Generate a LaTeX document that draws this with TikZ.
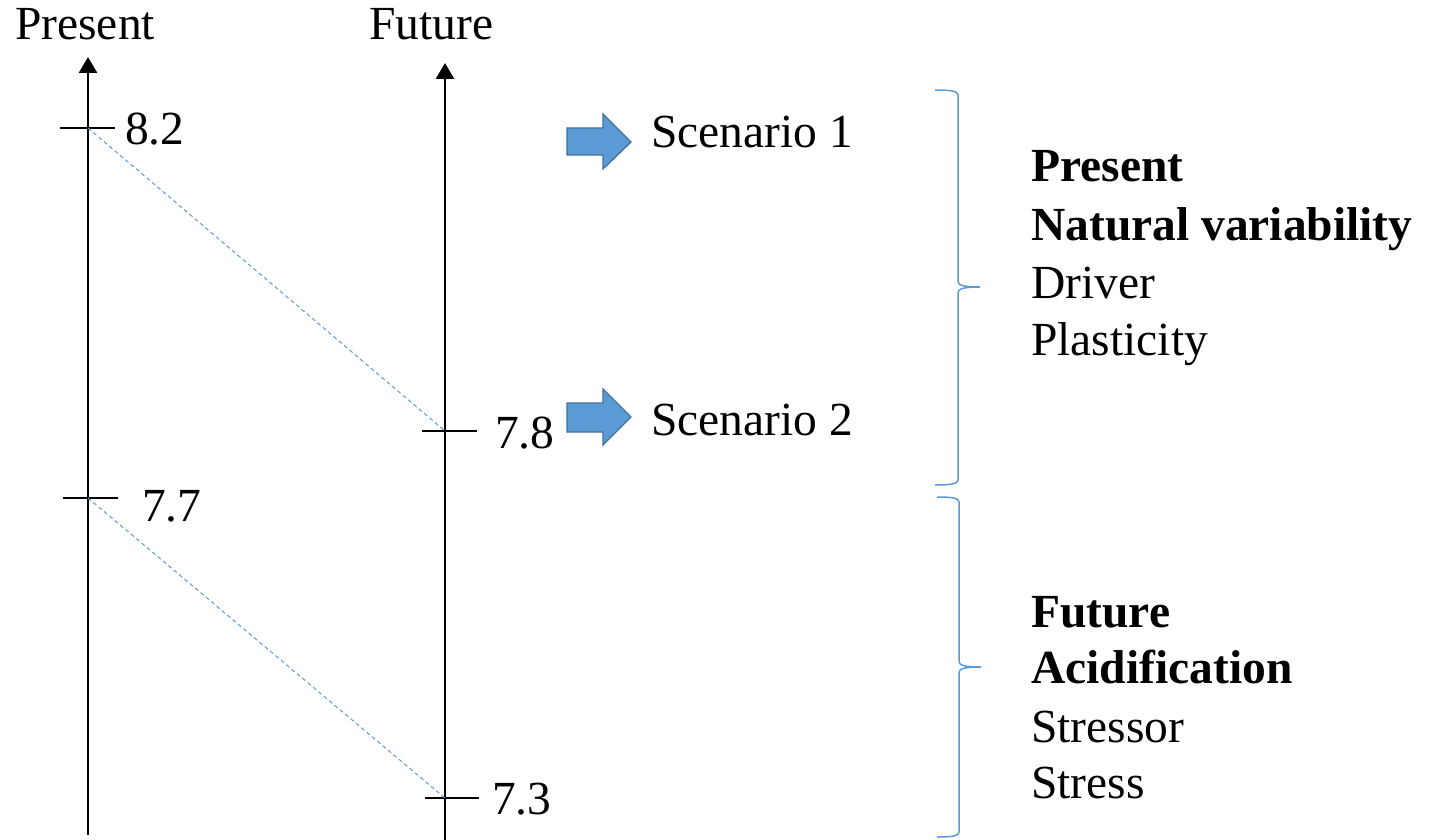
\documentclass[tikz,border=0pt]{standalone}
\usepackage{fontspec}
\setmainfont{Liberation Serif}
\usetikzlibrary{arrows.meta}
\definecolor{accblue}{HTML}{5B9BD5}
\definecolor{accdark}{HTML}{41719C}
\begin{document}
\begin{tikzpicture}[x=1pt,y=-1pt,
  txt/.style={inner sep=0pt,anchor=base west,font=\fontsize{47.5}{57}\selectfont},
  btxt/.style={txt,font=\fontsize{47.5}{57}\selectfont\bfseries},
  axisline/.style={line width=2.8pt,-{Triangle[width=18pt,length=16pt]}},
  tickline/.style={line width=1.4pt},
  guide/.style={accblue,line width=1pt,dash pattern=on 4pt off 3pt},
  bracestyle/.style={accblue,line width=1.5pt},
  blockarrow/.style={fill=accblue,draw=accdark,line width=1.3pt,line join=miter}
]
\useasboundingbox (0,0) rectangle (1440,840);

% axis titles
\node[txt] (tpres) at (15,40) {Present};
\node[txt] (tfut) at (369,40) {Future};

% axes
\coordinate (pb) at (88,835);
\coordinate (pt) at (88,57);
\coordinate (fb) at (445,840);
\coordinate (ft) at (445,63);
\draw[axisline] (pb) -- (pt);
\draw[axisline] (fb) -- (ft);

% ticks
\coordinate (p82) at (88,128);
\coordinate (f78) at (445,431);
\coordinate (p77) at (88,498);
\coordinate (f73) at (445,798);
\draw[tickline] (60,128) -- (115,128);
\draw[tickline] (422,431) -- (477,431);
\draw[tickline] (63,498) -- (118,498);
\draw[tickline] (425,798) -- (479,798);

% tick labels
\node[txt] (l82) at (125,145) {8.2};
\node[txt] (l78) at (495,448) {7.8};
\node[txt] (l77) at (142,521) {7.7};
\node[txt] (l73) at (492,814) {7.3};

% dashed guides
\draw[guide] (p82) -- (f78);
\draw[guide] (p77) -- (f73);

% block arrows
\draw[blockarrow] (567,128) -- (603,128) -- (603,114) -- (631,142) -- (603,169) -- (603,155) -- (567,155) -- cycle;
\draw[blockarrow] (567,403) -- (603,403) -- (603,389) -- (631,417) -- (603,445) -- (603,432) -- (567,432) -- cycle;

% scenario labels
\node[txt] (s1) at (651,147) {Scenario 1};
\node[txt] (s2) at (651,435) {Scenario 2};

% braces
\draw[bracestyle] (935,90) .. controls (950,90) and (958,91) .. (958,95) -- (958,281)
  .. controls (958,285) and (962,287) .. (980,287)
  .. controls (962,287) and (958,289) .. (958,293) -- (958,480)
  .. controls (958,484) and (950,485) .. (935,485);
\draw[bracestyle] (937,497) .. controls (952,497) and (959,498) .. (959,502) -- (959,661)
  .. controls (959,665) and (963,667) .. (981,667)
  .. controls (963,667) and (959,669) .. (959,673) -- (959,832)
  .. controls (959,836) and (952,837) .. (937,837);

% right texts
\node[btxt] (r1) at (1031,182) {Present};
\node[btxt] (r2) at (1031,240) {Natural variability};
\node[txt] (r3) at (1031,298) {Driver};
\node[txt] (r4) at (1031,355) {Plasticity};
\node[btxt] (r5) at (1031,627) {Future};
\node[btxt] (r6) at (1031,683) {Acidification};
\node[txt] (r7) at (1031,742) {Stressor};
\node[txt] (r8) at (1031,798) {Stress};
\end{tikzpicture}
\end{document}
